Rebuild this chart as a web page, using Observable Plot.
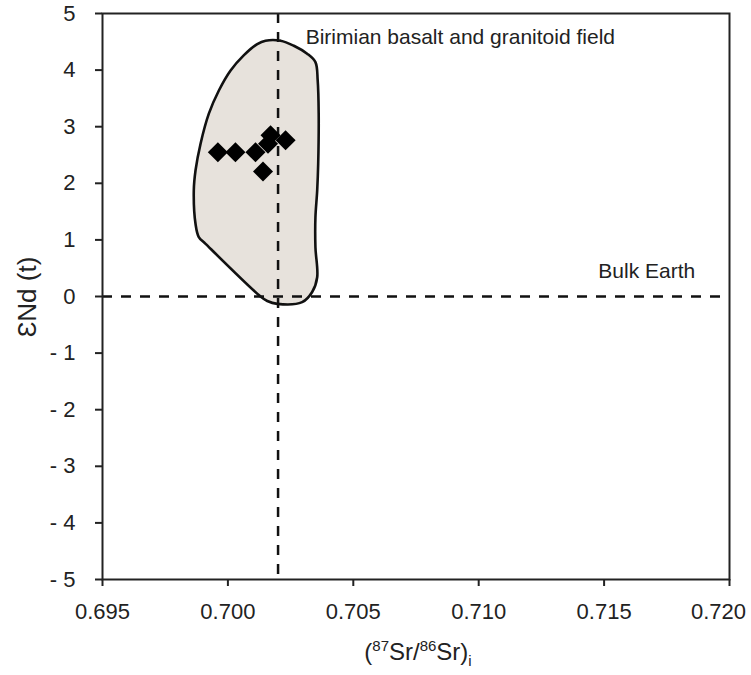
<!DOCTYPE html>
<html>
<head>
<meta charset="utf-8">
<script src="https://cdn.jsdelivr.net/npm/d3@7"></script>
<script src="https://cdn.jsdelivr.net/npm/@observablehq/plot@0.6"></script>
<style>
  html, body { margin: 0; padding: 0; background: #fff; }
  #chart svg g[aria-label$="tick"] { stroke-width: 2px; }
</style>
</head>
<body>
<div id="chart"></div>
<script>
// Samples: initial 87Sr/86Sr vs εNd(t)
const srRatio = [0.6996, 0.7003, 0.7011, 0.7017, 0.7016, 0.7023, 0.7014];
const epsNd   = [2.55,   2.55,   2.55,   2.85,   2.70,   2.76,   2.21];

// Birimian basalt and granitoid field outline
const fieldX = [0.70150, 0.70210, 0.70263, 0.70316, 0.70349, 0.70358, 0.70362, 0.70360, 0.70356, 0.70349, 0.70349, 0.70356, 0.70336, 0.70296, 0.70197, 0.70157, 0.70130, 0.69911, 0.69884, 0.69871, 0.69864, 0.69871, 0.69891, 0.69924, 0.69964, 0.70010, 0.70063, 0.70117];
const fieldY = [4.52, 4.52, 4.43, 4.29, 4.14, 3.82, 3.23, 2.34, 1.87, 1.40, 0.87, 0.34, 0.08, -0.10, -0.13, -0.08, 0.00, 0.93, 1.05, 1.28, 1.87, 2.23, 2.70, 3.23, 3.64, 3.99, 4.26, 4.46];

// Reference lines
const bulkEarthSr = [0.702];
const bulkEarthNd = [0];

// Axis ticks
const xTicks = [0.695, 0.700, 0.705, 0.710, 0.715, 0.720];
const yTicks = [-5, -4, -3, -2, -1, 0, 1, 2, 3, 4, 5];

// Annotations
const labelText = ["Birimian basalt and granitoid field", "Bulk Earth"];
const labelX = [0.7031, 0.7167];
const labelY = [4.58, 0.44];
const labelAnchor = ["start", "middle"];

const samples = srRatio.map((x, i) => ({x, y: epsNd[i]}));
const field = fieldX.map((x, i) => ({x, y: fieldY[i]}));
const labels = labelText.map((t, i) => ({t, x: labelX[i], y: labelY[i], a: labelAnchor[i]}));

const font = "'Liberation Sans', Arial, Helvetica, sans-serif";

const chart = Plot.plot({
  width: 751,
  height: 675,
  marginLeft: 102,
  marginRight: 22,
  marginTop: 13,
  marginBottom: 96,
  style: {fontFamily: font, fontSize: "22px", color: "#222", background: "#fff", overflow: "visible"},
  x: {domain: [0.695, 0.720], ticks: xTicks, tickFormat: d3.format(".3f"), tickSize: 7, tickPadding: 17, label: null},
  y: {domain: [-5, 5], ticks: yTicks, tickFormat: d => d < 0 ? "- " + Math.abs(d) : String(d), tickSize: 7, tickPadding: 20, label: null},
  marks: [
    Plot.line(field, {x: "x", y: "y", curve: "catmull-rom-closed", fill: "#e7e2dc", stroke: "#111", strokeWidth: 2.6}),
    Plot.ruleY(bulkEarthNd, {stroke: "#111", strokeWidth: 2.5, strokeDasharray: "10,9"}),
    Plot.ruleX(bulkEarthSr, {stroke: "#111", strokeWidth: 2.5, strokeDasharray: "10,9"}),
    Plot.frame({stroke: "#222", strokeWidth: 2}),
    Plot.dot(samples, {x: "x", y: "y", symbol: "square", rotate: 45, r: 8, fill: "#000", stroke: "none"}),
    Plot.text(labels.filter(d => d.a === "start"), {x: "x", y: "y", text: "t", textAnchor: "start", fontSize: 21, fill: "#222"}),
    Plot.text(labels.filter(d => d.a === "middle"), {x: "x", y: "y", text: "t", textAnchor: "middle", fontSize: 21, fill: "#222"})
  ]
});

document.getElementById("chart").appendChild(chart);

const svg = d3.select(chart);

// keep the last x tick label inside the picture, as in the reference
svg.selectAll('g[aria-label="x-axis tick label"] text')
  .filter(function() { return this.textContent === "0.720"; })
  .attr("dx", -11);

// Axis titles (with superscripts/subscript)
svg.append("text")
  .attr("transform", "translate(27,297) rotate(-90)")
  .attr("text-anchor", "middle")
  .attr("dy", "0.35em")
  .attr("font-size", 26)
  .attr("fill", "#222")
  .attr("font-family", font)
  .text("ƐNd (t)");

const xt = svg.append("text")
  .attr("x", 418)
  .attr("y", 660)
  .attr("text-anchor", "middle")
  .attr("font-size", 24)
  .attr("fill", "#222")
  .attr("font-family", font);
xt.append("tspan").text("(");
xt.append("tspan").attr("font-size", 15).attr("dy", -9).text("87");
xt.append("tspan").attr("dy", 9).text("Sr/");
xt.append("tspan").attr("font-size", 15).attr("dy", -9).text("86");
xt.append("tspan").attr("dy", 9).text("Sr)");
xt.append("tspan").attr("font-size", 15).attr("dy", 6).text("i");
</script>
</body>
</html>
